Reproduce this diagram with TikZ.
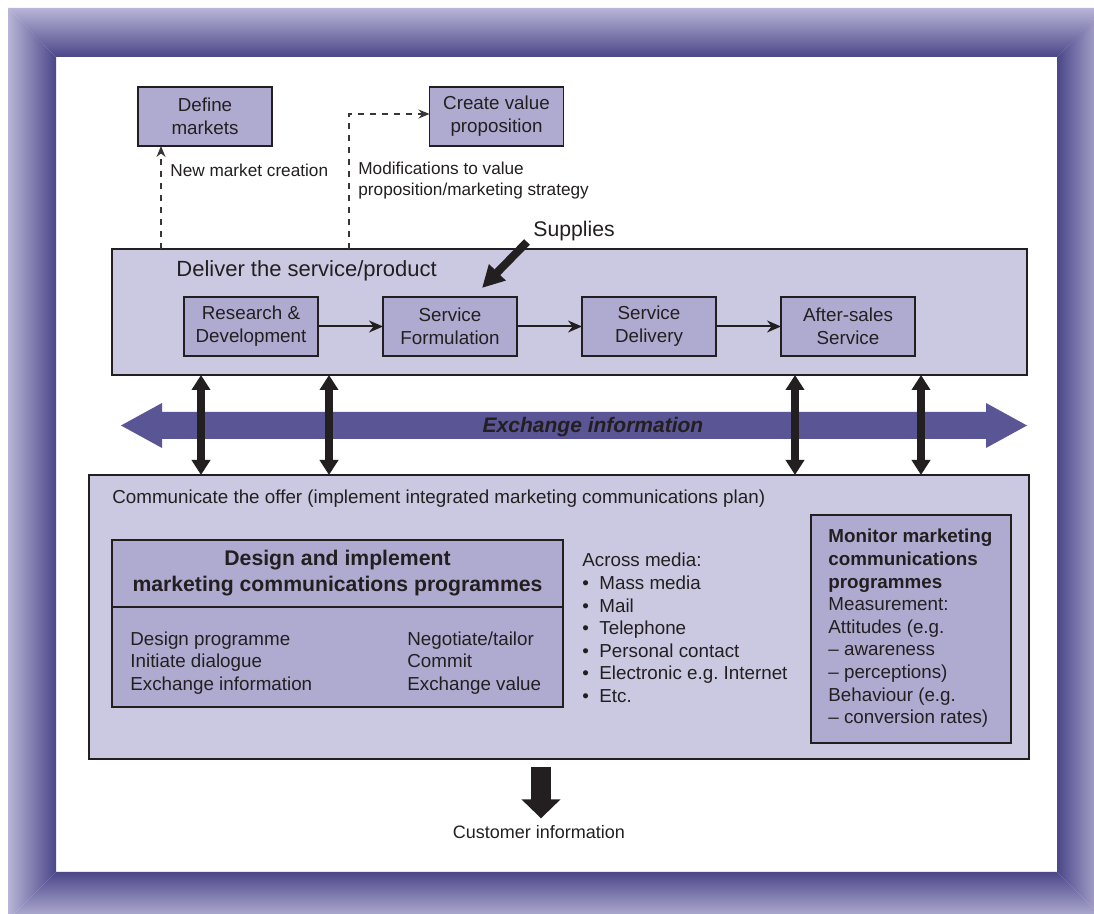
\documentclass[tikz,border=0pt]{standalone}
\usepackage{fontspec}
\setmainfont{Liberation Sans}
\usetikzlibrary{positioning,arrows.meta}
\definecolor{panelfill}{HTML}{CBC9E1}
\definecolor{boxfill}{HTML}{AFABD0}
\definecolor{framedark}{HTML}{4B4789}
\definecolor{framelight}{HTML}{B8B5D8}
\definecolor{flowfill}{HTML}{5A5594}
\definecolor{ink}{HTML}{231F20}
\newcommand{\mitem}{\makebox[8.5pt][l]{\textbullet}}
\begin{document}
\begin{tikzpicture}[x=0.5pt, y=-0.5pt, node distance=32.5pt,
  every node/.style={font=\fontsize{9.4}{11.3}\selectfont, text=ink},
  panel/.style={draw=ink, fill=panelfill, line width=0.6pt, inner sep=0pt, outer sep=0pt},
  stage/.style={draw=ink, fill=boxfill, line width=0.6pt, align=center, minimum width=67pt, minimum height=29.5pt, inner sep=0pt, outer sep=0pt, font=\fontsize{9.4}{11.6}\selectfont},
  note/.style={align=left, inner sep=0pt},
  flow/.style={draw=ink, line width=1pt, -{Stealth[length=7pt,width=6pt]}},
  feedback/.style={draw=ink!90, dashed, line width=0.6pt, -{Stealth[length=5.5pt,width=4.5pt]}},
  link/.style={draw=ink, line width=4pt, {Triangle[length=7.5pt,width=9pt]}-{Triangle[length=7.5pt,width=9pt]}},
]
\useasboundingbox (0,0) rectangle (1094,914);
\fill[white] (0,0) rectangle (1094,914);

% Frame
\shade[left color=framelight, right color=framedark] (8,8) -- (56,57) -- (56,872) -- (8,920) -- cycle;
\shade[top color=framelight, bottom color=framedark] (8,8) -- (1105,8) -- (1057,57) -- (56,57) -- cycle;
\shade[left color=framedark, right color=framelight] (1057,57) -- (1105,8) -- (1105,920) -- (1057,872) -- cycle;
\shade[top color=framedark, bottom color=framelight] (56,872) -- (1057,872) -- (1105,920) -- (8,920) -- cycle;

% Define the nodes
\node (define) [stage] at (205,116.5) {Define\\markets};
\node (valueprop) [stage] at (496.5,116.5) {Create value\\proposition};
\node (newmarket) [note, anchor=west, font=\fontsize{8.6}{10.5}\selectfont] at (170,170) {New market creation};
\node (modify) [note, anchor=west, font=\fontsize{8.6}{10.5}\selectfont] at (358,181) {Modifications to value\\proposition/marketing strategy};
\node (supplies) [anchor=west, inner sep=0pt, font=\fontsize{10.6}{12.7}\selectfont] at (533,231) {Supplies};

\node (deliver) [panel, minimum width=457.5pt, minimum height=63pt] at (569.5,312) {};
\node (delivertitle) [note, anchor=west, font=\fontsize{11}{13}\selectfont] at (176,271) {Deliver the service/product};
\node (rnd) [stage] at (251,326.5) {Research \&\\Development};
\node (formulation) [stage, right=of rnd] {Service\\Formulation};
\node (delivery) [stage, right=of formulation] {Service\\Delivery};
\node (aftersales) [stage, right=of delivery] {After-sales\\Service};

\fill[flowfill] (121,425.5) -- (162,403) -- (162,412) -- (986,412) -- (986,403) -- (1027,425.5)
  -- (986,448) -- (986,439) -- (162,439) -- (162,448) -- cycle;
\node (exchange) [font=\bfseries\itshape\fontsize{10.5}{12.6}\selectfont] at (593,427) {Exchange information};

\node (communicate) [panel, minimum width=470pt, minimum height=142pt] at (559,617) {};
\node (commtitle) [note, anchor=west] at (112,499) {Communicate the offer (implement integrated marketing communications plan)};
\node (designhead) [stage, minimum width=225.5pt, minimum height=33.5pt, font=\bfseries\fontsize{10.6}{13}\selectfont] at (337.5,573.5) {Design and implement\\marketing communications programmes};
\node (designbody) [stage, minimum width=225.5pt, minimum height=50pt, below=0pt of designhead] {};
\node (designleft) [note, anchor=west] at (130,663) {Design programme\\Initiate dialogue\\Exchange information};
\node (designright) [note, anchor=west] at (407,663) {Negotiate/tailor\\Commit\\Exchange value};
\node (media) [note, anchor=west] at (582,628) {Across media:\\\mitem Mass media\\\mitem Mail\\\mitem Telephone\\\mitem Personal contact\\\mitem Electronic e.g.\ Internet\\\mitem Etc.};
\node (monitor) [stage, minimum width=100pt, minimum height=114pt] at (911,629) {};
\node (monitortext) [note, anchor=west] at (828,628.5) {\textbf{Monitor marketing}\\\textbf{communications}\\\textbf{programmes}\\Measurement:\\Attitudes (e.g.\\-- awareness\\-- perceptions)\\Behaviour (e.g.\\-- conversion rates)};

\node (customer) [font=\fontsize{9}{11}\selectfont] at (539,832) {Customer information};
\coordinate (marketfoot) at (161,249);
\coordinate (valuefoot) at (349,249);
\coordinate (supplytail) at (527,242);
\coordinate (supplytip) at (482,288);
\coordinate (customertop) at (541,767);

% Connect the nodes
\draw[feedback] (marketfoot) -- (marketfoot |- define.south);
\draw[feedback] (valuefoot) |- ([yshift=1.25pt]valueprop.west);
\draw[draw=ink, line width=4pt, -{Triangle[length=11pt,width=11pt]}] (supplytail) -- (supplytip);
\draw[flow] (rnd) -- (formulation);
\draw[flow] (formulation) -- (delivery);
\draw[flow] (delivery) -- (aftersales);
\draw[link] (deliver.south -| 201,0) -- (communicate.north -| 201,0);
\draw[link] (deliver.south -| 329,0) -- (communicate.north -| 329,0);
\draw[link] (deliver.south -| 795,0) -- (communicate.north -| 795,0);
\draw[link] (deliver.south -| 921,0) -- (communicate.north -| 921,0);
\draw[draw=ink, line width=10pt, -{Triangle[length=9.5pt,width=19pt]}] (customertop) -- (customertop |- customer.north);
\end{tikzpicture}
\end{document}
